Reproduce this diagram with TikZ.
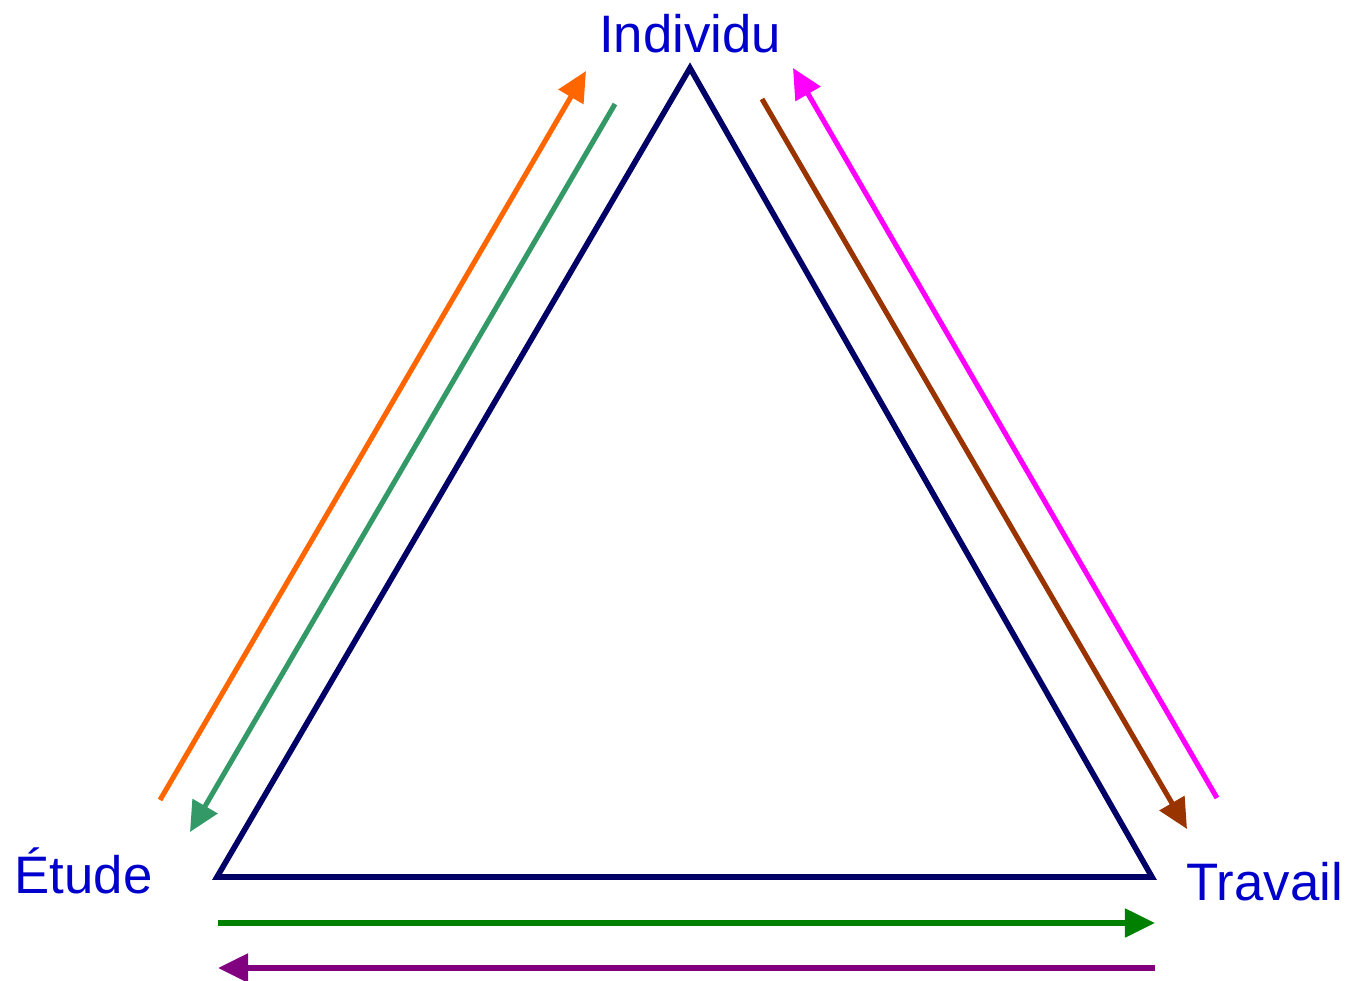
\documentclass[tikz,border=0pt]{standalone}
\usepackage{fontspec}
\setmainfont{Liberation Sans}
\usepackage{tikz}
\usetikzlibrary{arrows.meta, positioning}
\definecolor{mynavy}{RGB}{0,0,102}
\definecolor{myblue}{RGB}{0,0,204}
\definecolor{myorange}{RGB}{255,102,0}
\definecolor{mysea}{RGB}{51,153,102}
\definecolor{mybrown}{RGB}{153,51,0}
\definecolor{mymagenta}{RGB}{255,0,255}
\definecolor{mygreen}{RGB}{0,128,0}
\definecolor{mypurple}{RGB}{128,0,128}
\tikzset{
  pole/.style={font=\fontsize{15}{18}\selectfont, text=myblue, inner sep=0pt},
  side/.style={line width=1.6pt, color=mynavy, line join=miter},
  arrow/.style={-{Triangle[length=0.3cm, width=0.28cm]}, line width=1.45pt}
}

\begin{document}
\begin{tikzpicture}[x=0.01cm, y=-0.01cm]
  \useasboundingbox (0,0) rectangle (1350,981);

  % Corners
  \coordinate (top) at (690,68);
  \coordinate (bl) at (217,877);
  \coordinate (br) at (1152,877);

  % Poles
  \node[pole, anchor=base] (ind) at (690,52) {Individu};
  \node[pole, anchor=base west] (etu) at (14,893) {Étude};
  \node[pole, anchor=base west] (tra) at (1186,900) {Travail};

  % Triangle
  \draw[side] (top) -- (br) -- (bl) -- cycle;

  % Arrow ends
  \coordinate (o1) at (160,800);  \coordinate (o2) at (586,71);
  \coordinate (s1) at (615,104);  \coordinate (s2) at (190,832);
  \coordinate (b1) at (762,99);   \coordinate (b2) at (1187,829);
  \coordinate (m1) at (1217,798); \coordinate (m2) at (793,68);
  \coordinate (g1) at (218,923);  \coordinate (g2) at (1155,923);
  \coordinate (p1) at (1155,968); \coordinate (p2) at (218,968);

  % Arrows
  \draw[arrow, myorange] (o1) -- (o2);
  \draw[arrow, mysea] (s1) -- (s2);
  \draw[arrow, mybrown] (b1) -- (b2);
  \draw[arrow, mymagenta] (m1) -- (m2);
  \draw[arrow, mygreen] (g1) -- (g2);
  \draw[arrow, mypurple] (p1) -- (p2);
\end{tikzpicture}
\end{document}
